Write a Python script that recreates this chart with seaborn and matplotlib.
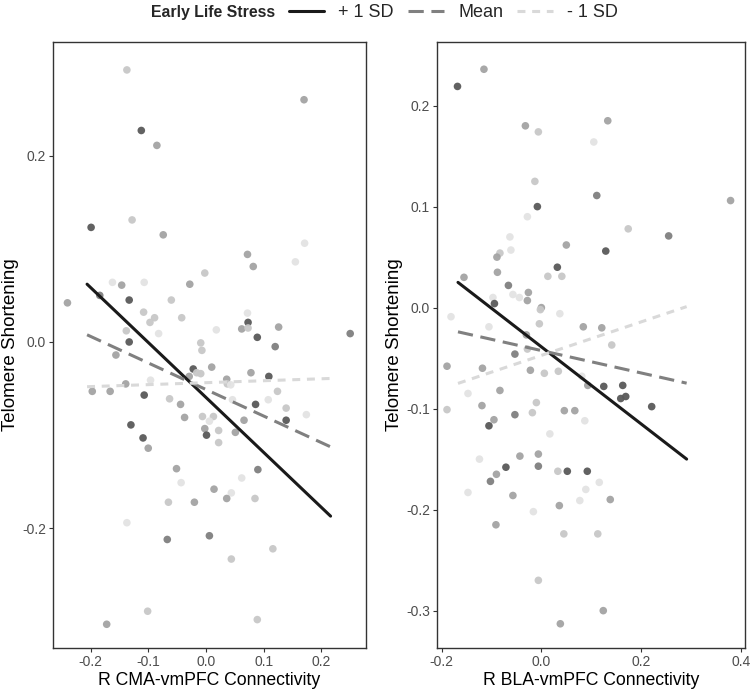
import numpy as np
import pandas as pd
import seaborn as sns
import matplotlib.pyplot as plt
from matplotlib.lines import Line2D

# 左图: R CMA-vmPFC
cma_x = [-0.137, -0.112, -0.085, -0.199, -0.128, -0.074, -0.240, -0.162, -0.146, -0.107,
         -0.184, -0.133, -0.060, -0.028, -0.002, -0.108, -0.089, -0.097, -0.042, -0.138,
         0.018, 0.170, 0.171, 0.072, 0.082, 0.155, 0.072, 0.073, 0.062, 0.126,
         0.073, -0.082, -0.133, -0.156, -0.009, -0.007, -0.022, 0.010, -0.029, -0.016,
         -0.009, -0.096, -0.139, -0.197, -0.166, -0.107, -0.063, -0.044, -0.037, -0.006,
         0.013, 0.006, -0.002, 0.001, 0.022, 0.022, -0.130, -0.109, -0.100, -0.051,
         -0.043, 0.014, -0.065, -0.020, -0.137, -0.067, 0.006, -0.101, -0.172, 0.250,
         0.089, 0.120, 0.078, 0.109, 0.036, 0.037, 0.043, 0.124, 0.108, 0.086,
         0.046, 0.139, 0.174, 0.139, 0.066, 0.051, 0.090, 0.062, 0.044, 0.036,
         0.085, 0.116, 0.044, 0.089]
cma_y = [0.292, 0.227, 0.211, 0.123, 0.131, 0.115, 0.042, 0.064, 0.061, 0.064,
         0.050, 0.045, 0.045, 0.062, 0.074, 0.032, 0.026, 0.021, 0.026, 0.012,
         0.013, 0.260, 0.106, 0.094, 0.081, 0.086, 0.031, 0.021, 0.014, 0.016,
         0.015, 0.009, 0.000, -0.014, -0.001, -0.009, -0.029, -0.027, -0.037, -0.033,
         -0.034, -0.041, -0.045, -0.053, -0.053, -0.057, -0.061, -0.067, -0.081, -0.080,
         -0.080, -0.085, -0.093, -0.100, -0.095, -0.108, -0.089, -0.103, -0.114, -0.136,
         -0.151, -0.158, -0.172, -0.172, -0.194, -0.212, -0.208, -0.289, -0.303, 0.009,
         0.005, -0.005, -0.033, -0.037, -0.040, -0.045, -0.046, -0.053, -0.062, -0.067,
         -0.062, -0.071, -0.078, -0.084, -0.084, -0.097, -0.137, -0.146, -0.162, -0.168,
         -0.168, -0.222, -0.233, -0.298]
cma_shade = [2, 5, 3, 5, 2, 3, 3, 1, 3, 1,
             4, 5, 2, 3, 2, 2, 2, 2, 2, 2,
             1, 3, 1, 3, 3, 1, 1, 5, 3, 3,
             2, 1, 5, 3, 2, 2, 5, 3, 3, 2,
             2, 1, 3, 3, 3, 5, 2, 3, 3, 2,
             2, 1, 3, 5, 2, 2, 5, 5, 3, 3,
             1, 3, 2, 3, 1, 4, 4, 2, 3, 4,
             5, 4, 3, 5, 3, 2, 1, 2, 1, 5,
             1, 2, 1, 5, 3, 3, 4, 1, 1, 3,
             2, 2, 2, 2]

# 右图: R BLA-vmPFC
bla_x = [-0.168, -0.115, -0.032, -0.006, -0.013, -0.008, -0.028, -0.063, -0.061, -0.083,
         -0.089, 0.050, -0.088, -0.155, -0.066, 0.032, 0.013, 0.041, -0.057, -0.044,
         -0.097, -0.026, -0.028, -0.094, 0.000, -0.002, -0.181, 0.037, -0.105, -0.004,
         0.084, 0.133, 0.105, 0.111, 0.379, 0.174, 0.255, 0.129, 0.121, -0.189,
         -0.118, -0.053, -0.030, -0.028, -0.022, 0.006, 0.034, 0.093, 0.081, -0.147,
         -0.083, -0.189, -0.119, -0.010, -0.018, -0.053, -0.095, -0.105, 0.046, 0.067,
         0.087, 0.017, -0.124, -0.043, -0.006, -0.006, -0.071, -0.090, -0.102, 0.033,
         0.052, 0.092, -0.147, -0.057, 0.089, 0.077, 0.036, -0.016, -0.091, 0.045,
         -0.006, 0.038, 0.141, 0.125, 0.163, 0.159, 0.169, 0.221, 0.116, 0.138,
         0.113, 0.124]
bla_y = [0.219, 0.236, 0.180, 0.174, 0.125, 0.100, 0.090, 0.070, 0.057, 0.054,
         0.050, 0.062, 0.035, 0.030, 0.022, 0.040, 0.031, 0.031, 0.013, 0.010,
         0.010, 0.015, 0.007, 0.004, 0.000, -0.002, -0.009, -0.006, -0.019, -0.016,
         -0.019, 0.185, 0.164, 0.111, 0.106, 0.078, 0.071, 0.056, -0.020, -0.058,
         -0.060, -0.046, -0.027, -0.041, -0.062, -0.065, -0.063, -0.077, -0.068, -0.085,
         -0.082, -0.101, -0.097, -0.094, -0.104, -0.106, -0.111, -0.117, -0.102, -0.102,
         -0.112, -0.125, -0.150, -0.147, -0.145, -0.157, -0.158, -0.165, -0.172, -0.162,
         -0.162, -0.162, -0.183, -0.186, -0.180, -0.191, -0.196, -0.202, -0.215, -0.224,
         -0.270, -0.313, -0.037, -0.078, -0.077, -0.090, -0.088, -0.098, -0.173, -0.190,
         -0.224, -0.300]
bla_shade = [5, 3, 3, 2, 2, 5, 1, 1, 1, 2,
             3, 3, 3, 3, 4, 5, 2, 2, 1, 1,
             1, 3, 3, 5, 3, 2, 1, 1, 1, 2,
             3, 3, 1, 4, 3, 2, 4, 5, 3, 3,
             3, 4, 3, 2, 3, 2, 2, 3, 1, 1,
             3, 2, 3, 2, 2, 4, 3, 5, 3, 3,
             1, 1, 1, 3, 3, 4, 5, 3, 4, 2,
             5, 5, 1, 3, 1, 1, 3, 1, 3, 2,
             2, 3, 2, 5, 5, 5, 5, 5, 1, 3,
             2, 3]

# 简单斜率 (+1 SD, Mean, -1 SD)
levels = ['+ 1 SD', 'Mean', '- 1 SD']
cma_intercept = [-0.0595, -0.051, -0.0437]
cma_slope = [-0.590, -0.285, 0.021]
cma_range = [-0.206, 0.216]
bla_intercept = [-0.0388, -0.0425, -0.0473]
bla_slope = [-0.382, -0.111, 0.166]
bla_range = [-0.167, 0.291]

shade_colors = {1: '#e3e3e3', 2: '#c8c8c8', 3: '#a3a3a3', 4: '#808080', 5: '#5a5a5a'}
line_colors = {'+ 1 SD': '#1a1a1a', 'Mean': '#808080', '- 1 SD': '#d9d9d9'}
line_dashes = {'+ 1 SD': '', 'Mean': (5, 2.5), '- 1 SD': (2.6, 2.2)}

sns.set_theme(style='white')
plt.rcParams['font.family'] = ['Liberation Sans', 'DejaVu Sans']
plt.rcParams['axes.unicode_minus'] = False


def line_frame(intercepts, slopes, xr):
    rows = []
    for lev, b0, b1 in zip(levels, intercepts, slopes):
        for xv in xr:
            rows.append({'x': xv, 'y': b0 + b1 * xv, 'level': lev})
    return pd.DataFrame(rows)


def draw_panel(ax, xs, ys, shades, intercepts, slopes, xr, xlabel, xlim, ylim, xticks, yticks):
    pts = pd.DataFrame({'x': xs, 'y': ys, 'shade': shades})
    sns.scatterplot(data=pts, x='x', y='y', hue='shade', palette=shade_colors,
                    s=30, linewidth=0, alpha=0.95, legend=False, ax=ax, zorder=2)
    lines = line_frame(intercepts, slopes, xr)
    sns.lineplot(data=lines, x='x', y='y', hue='level', style='level',
                 palette=line_colors, dashes=line_dashes, linewidth=2.2,
                 legend=False, ax=ax, zorder=3)
    ax.set_xlim(*xlim)
    ax.set_ylim(*ylim)
    ax.set_xticks(xticks)
    ax.set_yticks(yticks)
    ax.set_xticklabels([f'{t:.1f}' for t in xticks])
    ax.set_yticklabels([f'{t:.1f}' for t in yticks])
    ax.set_xlabel(xlabel, fontsize=12.7, color='black', labelpad=2)
    ax.set_ylabel('Telomere Shortening', fontsize=13.5, color='black', labelpad=2)
    for sp in ax.spines.values():
        sp.set_visible(True)
        sp.set_color('#333333')
        sp.set_linewidth(1.0)
    ax.tick_params(direction='out', length=3, width=0.8, color='#333333',
                   labelcolor='#4d4d4d', labelsize=10, pad=2,
                   bottom=True, left=True)


fig = plt.figure(figsize=(7.5, 6.95), dpi=100)
ax1 = fig.add_axes([0.0707, 0.0676, 0.417, 0.872])
ax2 = fig.add_axes([0.5827, 0.0676, 0.4107, 0.872])

draw_panel(ax1, cma_x, cma_y, cma_shade, cma_intercept, cma_slope, cma_range,
           'R CMA-vmPFC Connectivity', (-0.265, 0.277), (-0.3285, 0.322),
           [-0.2, -0.1, 0.0, 0.1, 0.2], [-0.2, 0.0, 0.2])
draw_panel(ax2, bla_x, bla_y, bla_shade, bla_intercept, bla_slope, bla_range,
           'R BLA-vmPFC Connectivity', (-0.209, 0.408), (-0.337, 0.263),
           [-0.2, 0.0, 0.2, 0.4], [-0.3, -0.2, -0.1, 0.0, 0.1, 0.2])

# 图例
handles = []
for l in levels:
    h = Line2D([0], [0], color=line_colors[l], lw=2.2)
    if line_dashes[l]:
        h.set_dashes(line_dashes[l])
    handles.append(h)
fig.text(0.367, 0.982, 'Early Life Stress', ha='right', va='center',
         fontweight='bold', fontsize=11.4)
fig.legend(handles, levels, loc='center left', bbox_to_anchor=(0.385, 0.982),
           ncol=3, frameon=False, handlelength=1.95, handletextpad=0.8,
           columnspacing=0.8, fontsize=13, borderaxespad=0, borderpad=0)

plt.savefig('out.png', dpi=100)
plt.close()
